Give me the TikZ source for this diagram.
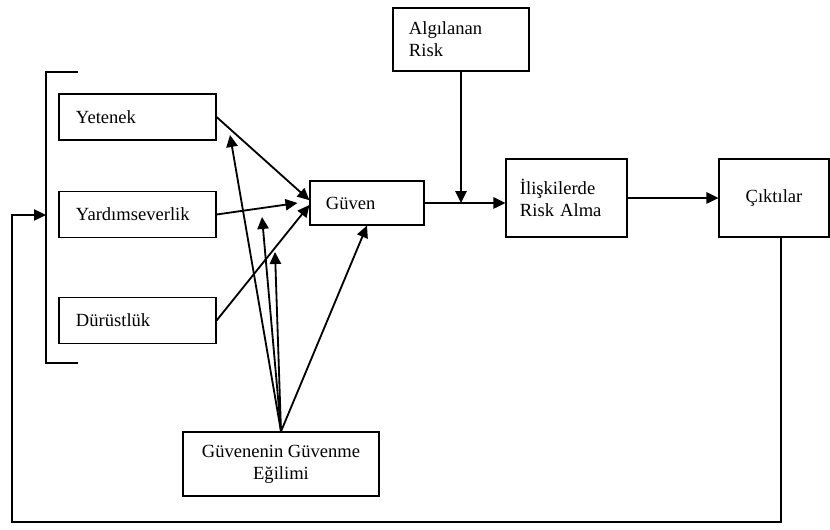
\documentclass[tikz,border=0pt]{standalone}
\usepackage{fontspec}
\setmainfont{Liberation Serif}
\usepackage{tikz}
\usetikzlibrary{arrows.meta, positioning}

\begin{document}
\begin{tikzpicture}[x=0.025cm, y=-0.025cm, >={Triangle[length=8.5pt,width=8pt]},
    kutu/.style={draw, line width=0.8pt, align=left, font=\fontsize{13.2}{15.6}\selectfont},
    ok/.style={->, line width=1.3pt},
    cizgi/.style={line width=0.9pt}]
    \useasboundingbox (0,0) rectangle (830,530);

    % Kutular
    \node[kutu, minimum width=3.925cm, minimum height=1.15cm, inner xsep=0.425cm, text width=3.075cm] (yetenek) at (137.5,117) {Yetenek};
    \node[kutu, minimum width=3.925cm, minimum height=1.15cm, inner xsep=0.425cm, text width=3.075cm] (yardim) at (137.5,214.5) {Yardımseverlik};
    \node[kutu, minimum width=3.925cm, minimum height=1.15cm, inner xsep=0.425cm, text width=3.075cm] (durust) at (137.5,320.5) {Dürüstlük};
    \node[kutu, minimum width=2.85cm, minimum height=1.1cm, inner xsep=0.4cm, text width=2.05cm] (guven) at (367,203) {Güven};
    \node[kutu, minimum width=3.4cm, minimum height=1.575cm, inner xsep=0.4cm, text width=2.6cm] (algi) at (461,39.5) {Algılanan\\Risk};
    \node[kutu, minimum width=3.025cm, minimum height=1.95cm, inner xsep=0.35cm, text width=2.325cm] (risk) at (566.5,198) {İlişkilerde\\Risk Alma};
    \node[kutu, minimum width=2.75cm, minimum height=1.95cm, align=center] (cikti) at (774,198) {Çıktılar};
    \node[kutu, minimum width=4.9cm, minimum height=1.6cm, align=center] (egilim) at (281,464) {Güvenenin Güvenme\\Eğilimi};

    % Parantez
    \draw[cizgi] (78,72) -- (46,72) -- (46,363) -- (78,363);
    \coordinate (parantez) at (46,215);
    \coordinate (alt) at (12,522);

    % Egilim oklari
    \coordinate (e1) at (230,135);
    \coordinate (e2) at (262,217);
    \coordinate (e3) at (275,252);

    % Oklar
    \draw[ok] (yetenek.east) -- ([yshift=0.07cm]guven.west);
    \draw[ok] (yardim.east) -- ([xshift=-0.3cm]guven.west);
    \draw[ok] (durust.east) -- ([yshift=-0.05cm]guven.west);
    \draw[ok] (egilim.north) -- (e1);
    \draw[ok] (egilim.north) -- (e2);
    \draw[ok] (egilim.north) -- (e3);
    \draw[ok] (egilim.north) -- (guven.south);
    \draw[ok] (guven.east) -- (guven.east -| risk.west);
    \draw[ok] (algi.south) -- (algi.south |- guven.east);
    \draw[ok] (risk.east) -- (cikti.west);

    % Geri besleme
    \draw[cizgi, ->] ([xshift=0.175cm]cikti.south) |- (alt) |- (parantez);
\end{tikzpicture}
\end{document}
